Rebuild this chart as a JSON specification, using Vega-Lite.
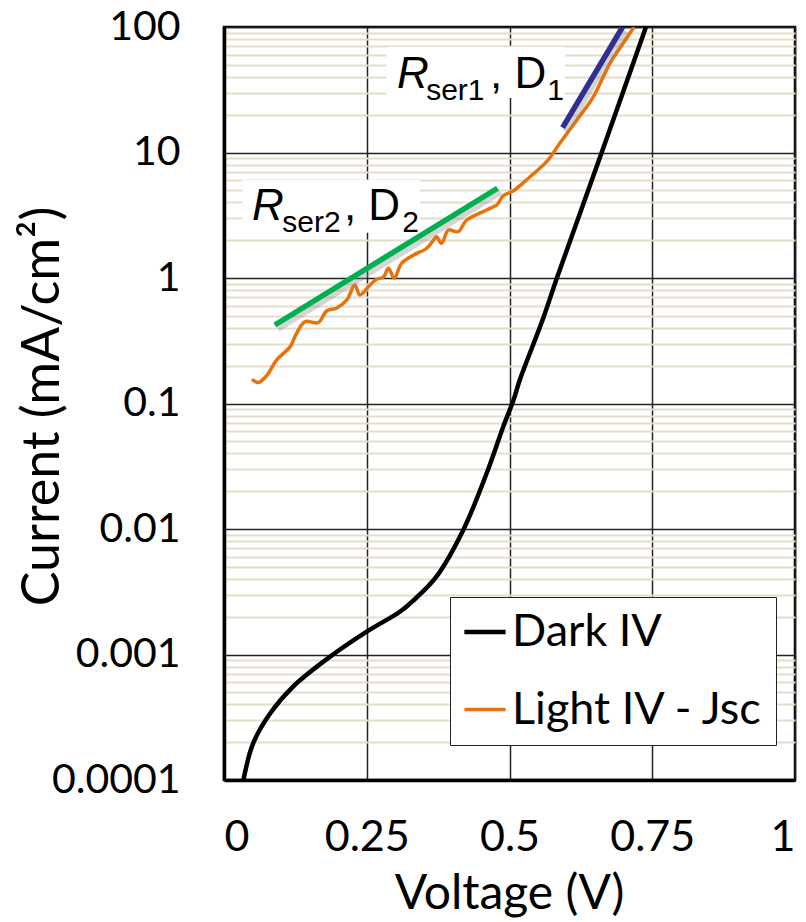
{
  "$schema": "https://vega.github.io/schema/vega-lite/v6.json",
  "width": 571,
  "height": 753,
  "autosize": {"type": "none"},
  "padding": {"left": 224, "top": 27, "right": 11, "bottom": 142},
  "background": "white",
  "config": {
    "view": {"stroke": "black", "strokeWidth": 2.5},
    "axis": {
      "labelFont": "Lato",
      "titleFont": "Lato",
      "labelColor": "black",
      "titleColor": "black",
      "titleFontWeight": "normal",
      "ticks": false,
      "domainColor": "black",
      "domainWidth": 3.5
    },
    "legend": {"labelFont": "Lato"}
  },
  "datasets": {
    "curves": [
      {"series": "Dark IV", "V": 0.034, "J": 0.0001},
      {"series": "Dark IV", "V": 0.051, "J": 0.000196},
      {"series": "Dark IV", "V": 0.081, "J": 0.00034},
      {"series": "Dark IV", "V": 0.121, "J": 0.000555},
      {"series": "Dark IV", "V": 0.186, "J": 0.000962},
      {"series": "Dark IV", "V": 0.25, "J": 0.00152},
      {"series": "Dark IV", "V": 0.308, "J": 0.00219},
      {"series": "Dark IV", "V": 0.33, "J": 0.00265},
      {"series": "Dark IV", "V": 0.372, "J": 0.00417},
      {"series": "Dark IV", "V": 0.419, "J": 0.00982},
      {"series": "Dark IV", "V": 0.46, "J": 0.0278},
      {"series": "Dark IV", "V": 0.489, "J": 0.0653},
      {"series": "Dark IV", "V": 0.507, "J": 0.1067},
      {"series": "Dark IV", "V": 0.518, "J": 0.1538},
      {"series": "Dark IV", "V": 0.559, "J": 0.478},
      {"series": "Dark IV", "V": 0.583, "J": 1.0},
      {"series": "Dark IV", "V": 0.661, "J": 9.86},
      {"series": "Dark IV", "V": 0.739, "J": 100},
      {"series": "Light IV - Jsc", "V": 0.049, "J": 0.156},
      {"series": "Light IV - Jsc", "V": 0.06, "J": 0.147},
      {"series": "Light IV - Jsc", "V": 0.075, "J": 0.167},
      {"series": "Light IV - Jsc", "V": 0.092, "J": 0.222},
      {"series": "Light IV - Jsc", "V": 0.116, "J": 0.284},
      {"series": "Light IV - Jsc", "V": 0.127, "J": 0.362},
      {"series": "Light IV - Jsc", "V": 0.142, "J": 0.449},
      {"series": "Light IV - Jsc", "V": 0.165, "J": 0.441},
      {"series": "Light IV - Jsc", "V": 0.18, "J": 0.548},
      {"series": "Light IV - Jsc", "V": 0.197, "J": 0.574},
      {"series": "Light IV - Jsc", "V": 0.215, "J": 0.668},
      {"series": "Light IV - Jsc", "V": 0.229, "J": 0.879},
      {"series": "Light IV - Jsc", "V": 0.238, "J": 0.733},
      {"series": "Light IV - Jsc", "V": 0.253, "J": 0.853},
      {"series": "Light IV - Jsc", "V": 0.267, "J": 0.977},
      {"series": "Light IV - Jsc", "V": 0.279, "J": 1.014},
      {"series": "Light IV - Jsc", "V": 0.288, "J": 1.194},
      {"series": "Light IV - Jsc", "V": 0.298, "J": 0.995},
      {"series": "Light IV - Jsc", "V": 0.311, "J": 1.309},
      {"series": "Light IV - Jsc", "V": 0.332, "J": 1.524},
      {"series": "Light IV - Jsc", "V": 0.355, "J": 1.726},
      {"series": "Light IV - Jsc", "V": 0.367, "J": 2.01},
      {"series": "Light IV - Jsc", "V": 0.372, "J": 2.133},
      {"series": "Light IV - Jsc", "V": 0.381, "J": 1.888},
      {"series": "Light IV - Jsc", "V": 0.393, "J": 2.41},
      {"series": "Light IV - Jsc", "V": 0.41, "J": 2.339},
      {"series": "Light IV - Jsc", "V": 0.425, "J": 2.897},
      {"series": "Light IV - Jsc", "V": 0.46, "J": 3.483},
      {"series": "Light IV - Jsc", "V": 0.472, "J": 3.698},
      {"series": "Light IV - Jsc", "V": 0.478, "J": 3.819},
      {"series": "Light IV - Jsc", "V": 0.489, "J": 4.519},
      {"series": "Light IV - Jsc", "V": 0.507, "J": 4.955},
      {"series": "Light IV - Jsc", "V": 0.536, "J": 6.412},
      {"series": "Light IV - Jsc", "V": 0.565, "J": 8.453},
      {"series": "Light IV - Jsc", "V": 0.588, "J": 11.83},
      {"series": "Light IV - Jsc", "V": 0.618, "J": 18.16},
      {"series": "Light IV - Jsc", "V": 0.647, "J": 27.86},
      {"series": "Light IV - Jsc", "V": 0.676, "J": 51.4},
      {"series": "Light IV - Jsc", "V": 0.699, "J": 74.1},
      {"series": "Light IV - Jsc", "V": 0.718, "J": 100}
    ],
    "fits": [
      {"fit": "D2", "V": 0.089, "J": 0.422},
      {"fit": "D2", "V": 0.479, "J": 5.19},
      {"fit": "D1", "V": 0.593, "J": 15.8},
      {"fit": "D1", "V": 0.698, "J": 100}
    ],
    "boxes": [
      {"V1": 0.284, "V2": 0.597, "J1": 27.2, "J2": 69.3},
      {"V1": 0.032, "V2": 0.343, "J1": 2.29, "J2": 6.04}
    ],
    "italic": [
      {"t": "R", "V": 0.303, "J": 32.7},
      {"t": "R", "V": 0.049, "J": 2.9}
    ],
    "big": [
      {"t": ", D", "V": 0.466, "J": 32.7},
      {"t": ", D", "V": 0.21, "J": 2.9}
    ],
    "small": [
      {"t": "ser1", "V": 0.354, "J": 26.2},
      {"t": "1", "V": 0.566, "J": 26.2},
      {"t": "ser2", "V": 0.102, "J": 2.33},
      {"t": "2", "V": 0.312, "J": 2.33}
    ]
  },
  "layer": [
    {
      "data": {"name": "boxes"},
      "mark": {"type": "rect", "fill": "white"},
      "encoding": {
        "x": {"field": "V1", "type": "quantitative", "scale": {"domain": [0, 1]},
          "axis": {
            "values": [0, 0.25, 0.5, 0.75, 1],
            "format": "~g",
            "labelFontSize": 43,
            "labelPadding": 36,
            "title": "Voltage (V)",
            "titleFontSize": 48,
            "titleX": 285,
            "titleY": 128,
            "titleBaseline": "alphabetic",
            "titleAlign": "center",
            "grid": true,
            "gridColor": "#222222",
            "gridWidth": 1.5
          }},
        "x2": {"field": "V2"},
        "y": {"field": "J1", "type": "quantitative",
          "scale": {"type": "log", "domain": [0.0001, 100]},
          "axis": {
            "values": [0.0001,0.0002,0.0003,0.0004,0.0005,0.0006,0.0007,0.0008,0.0009,
                       0.001,0.002,0.003,0.004,0.005,0.006,0.007,0.008,0.009,
                       0.01,0.02,0.03,0.04,0.05,0.06,0.07,0.08,0.09,
                       0.1,0.2,0.3,0.4,0.5,0.6,0.7,0.8,0.9,
                       1,2,3,4,5,6,7,8,9,
                       10,20,30,40,50,60,70,80,90,100],
            "labelExpr": "abs(log(datum.value)/LN10 - round(log(datum.value)/LN10)) < 0.001 ? format(datum.value, '~g') : ''",
            "labelOverlap": false,
            "labelFontSize": 41,
            "labelPadding": 44,
            "title": "Current (mA/cm²)",
            "titleFontSize": 52,
            "titleX": -166,
            "titleY": 379,
            "titleAngle": 270,
            "titleBaseline": "alphabetic",
            "titleAlign": "center",
            "grid": true,
            "gridColor": {"condition": {"test": "abs(log(datum.value)/LN10 - round(log(datum.value)/LN10)) < 0.001", "value": "#222222"}, "value": "#e3ddc9"},
            "gridWidth": {"condition": {"test": "abs(log(datum.value)/LN10 - round(log(datum.value)/LN10)) < 0.001", "value": 1.5}, "value": 2}
          }},
        "y2": {"field": "J2"}
      }
    },
    {
      "data": {"name": "italic"},
      "mark": {"type": "text", "font": "Liberation Sans", "fontStyle": "italic", "fontSize": 44, "align": "left", "baseline": "alphabetic"},
      "encoding": {
        "x": {"field": "V", "type": "quantitative"},
        "y": {"field": "J", "type": "quantitative"},
        "text": {"field": "t"}
      }
    },
    {
      "data": {"name": "big"},
      "mark": {"type": "text", "font": "Liberation Sans", "fontSize": 44, "align": "left", "baseline": "alphabetic"},
      "encoding": {
        "x": {"field": "V", "type": "quantitative"},
        "y": {"field": "J", "type": "quantitative"},
        "text": {"field": "t"}
      }
    },
    {
      "data": {"name": "small"},
      "mark": {"type": "text", "font": "Liberation Sans", "fontSize": 30, "align": "left", "baseline": "alphabetic"},
      "encoding": {
        "x": {"field": "V", "type": "quantitative"},
        "y": {"field": "J", "type": "quantitative"},
        "text": {"field": "t"}
      }
    },
    {
      "data": {"name": "curves"},
      "mark": {"type": "line", "interpolate": "catmull-rom", "clip": true},
      "encoding": {
        "x": {"field": "V", "type": "quantitative"},
        "y": {"field": "J", "type": "quantitative"},
        "color": {"field": "series", "type": "nominal",
          "scale": {"domain": ["Dark IV", "Light IV - Jsc"], "range": ["#000000", "#E8720C"]},
          "legend": {
            "title": null,
            "orient": "none",
            "legendX": 226,
            "legendY": 570,
            "fillColor": "white",
            "strokeColor": "#222222",
            "padding": 12,
            "symbolType": "stroke",
            "symbolSize": 1700,
            "symbolStrokeWidth": 4,
            "labelFontSize": 45,
            "labelColor": "black",
            "labelOffset": 4,
            "rowPadding": 32,
            "labelLimit": 400
          }},
        "strokeWidth": {"field": "series", "type": "nominal", "scale": {"domain": ["Dark IV", "Light IV - Jsc"], "range": [4.5, 3.5]}, "legend": null}
      }
    },
    {
      "data": {"name": "fits"},
      "mark": {"type": "line", "strokeWidth": 6, "stroke": "#888888", "opacity": 0.35, "xOffset": 3, "yOffset": 4},
      "encoding": {
        "x": {"field": "V", "type": "quantitative"},
        "y": {"field": "J", "type": "quantitative"},
        "detail": {"field": "fit"}
      }
    },
    {
      "data": {"name": "fits"},
      "mark": {"type": "line", "strokeWidth": 5.5, "clip": true},
      "encoding": {
        "x": {"field": "V", "type": "quantitative"},
        "y": {"field": "J", "type": "quantitative"},
        "stroke": {"field": "fit", "type": "nominal", "scale": {"domain": ["D1", "D2"], "range": ["#2E3192", "#00B050"]}, "legend": null}
      }
    }
  ]
}
